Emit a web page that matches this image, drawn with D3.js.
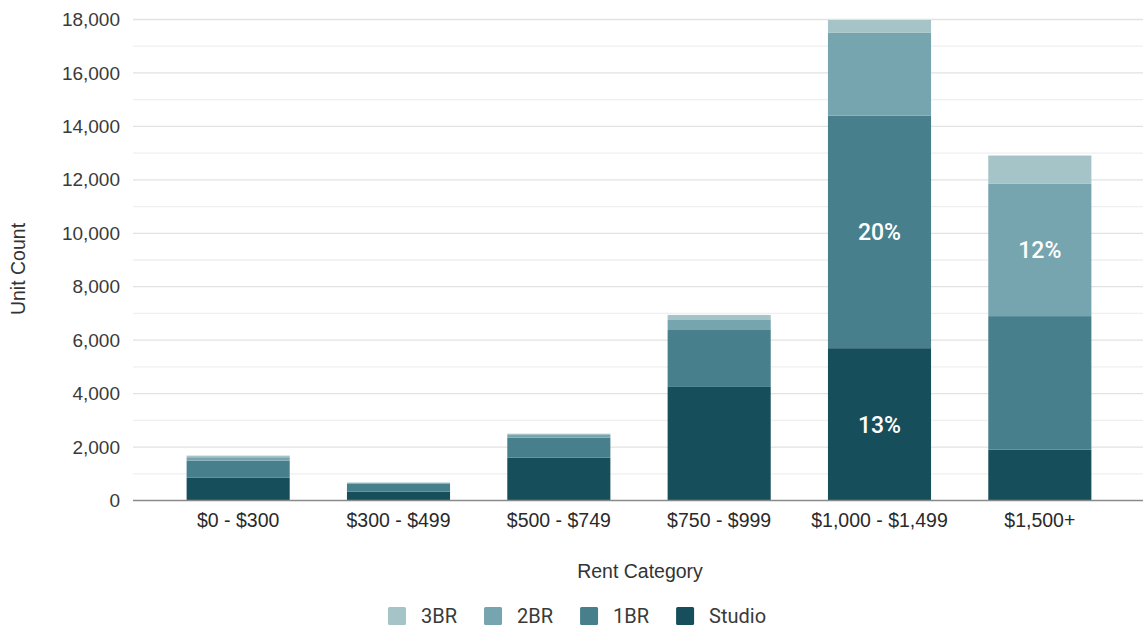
<!DOCTYPE html>
<html>
<head>
<meta charset="utf-8">
<script src="https://cdn.jsdelivr.net/npm/d3@7/dist/d3.min.js"></script>
<style>
  html, body { margin: 0; padding: 0; background: #ffffff; }
  svg { display: block; }
</style>
</head>
<body>
<svg id="chart" width="1143" height="628"></svg>
<script>
// Rent categories along the x axis
const categories = ["$0 - $300", "$300 - $499", "$500 - $749", "$750 - $999", "$1,000 - $1,499", "$1,500+"];

// Unit counts per unit type (stacked bottom to top: Studio, 1BR, 2BR, 3BR)
const studio = [850, 330, 1600, 4250, 5700, 1900];
const oneBR  = [640, 300, 750, 2130, 8700, 5000];
const twoBR  = [130, 30, 100, 375, 3100, 4950];
const threeBR = [60, 15, 50, 190, 480, 1060];

const seriesNames = ["Studio", "1BR", "2BR", "3BR"];
const seriesValues = [studio, oneBR, twoBR, threeBR];
const seriesColors = ["#174e5b", "#477f8c", "#76a4af", "#a4c4c8"];

// Y axis ticks (major) and minor gridlines
const yTicks = [0, 2000, 4000, 6000, 8000, 10000, 12000, 14000, 16000, 18000];
const yMinor = [1000, 3000, 5000, 7000, 9000, 11000, 13000, 15000, 17000];

// Segments annotated with their share of all units
const annotated = [
  { series: "1BR", category: "$1,000 - $1,499" },
  { series: "Studio", category: "$1,000 - $1,499" },
  { series: "2BR", category: "$1,500+" }
];

const svg = d3.select("#chart");
const plotLeft = 133, plotRight = 1143, plotTop = 19.5, plotBottom = 500.5;

const x = d3.scaleBand()
  .domain(categories)
  .range([158, 1120])
  .paddingInner(0.357)
  .paddingOuter(0.1785);

const y = d3.scaleLinear().domain([0, 18000]).range([plotBottom, plotTop]);

// Build stack table
const table = categories.map((c, i) => {
  const row = { category: c };
  seriesNames.forEach((s, k) => { row[s] = seriesValues[k][i]; });
  return row;
});
const stacked = d3.stack().keys(seriesNames)(table);
const grandTotal = d3.sum(seriesValues, arr => d3.sum(arr));

// Minor gridlines
svg.append("g").selectAll("line").data(yMinor).join("line")
  .attr("x1", plotLeft).attr("x2", plotRight)
  .attr("y1", d => y(d)).attr("y2", d => y(d))
  .attr("stroke", "#efefef").attr("stroke-width", 1.3);

// Major gridlines
svg.append("g").selectAll("line").data(yTicks.filter(d => d > 0)).join("line")
  .attr("x1", plotLeft).attr("x2", plotRight)
  .attr("y1", d => y(d)).attr("y2", d => y(d))
  .attr("stroke", "#e2e2e2").attr("stroke-width", 1.3);

// Y axis labels
const yAxis = d3.axisLeft(y).tickValues(yTicks).tickSize(0).tickPadding(0)
  .tickFormat(d3.format(","));
svg.append("g")
  .attr("transform", `translate(120,0)`)
  .call(yAxis)
  .call(g => g.select(".domain").remove())
  .call(g => g.selectAll("text")
    .attr("font-family", "'Liberation Sans', Arial, sans-serif")
    .attr("font-size", 19)
    .attr("fill", "#3a3a3a"));

// Bars
const layer = svg.append("g").selectAll("g").data(stacked).join("g")
  .attr("fill", (d, i) => seriesColors[i]);
layer.selectAll("rect").data(d => d.map(v => ({ v, key: d.key }))).join("rect")
  .attr("x", d => x(d.v.data.category))
  .attr("width", x.bandwidth())
  .attr("y", d => y(d.v[1]))
  .attr("height", d => y(d.v[0]) - y(d.v[1]));

// Baseline
svg.append("line")
  .attr("x1", plotLeft).attr("x2", plotRight)
  .attr("y1", y(0)).attr("y2", y(0))
  .attr("stroke", "#8a8a8a").attr("stroke-width", 1.3);

// Percentage annotations
annotated.forEach(a => {
  const k = seriesNames.indexOf(a.series);
  const i = categories.indexOf(a.category);
  const seg = stacked[k][i];
  const pct = Math.round(seriesValues[k][i] / grandTotal * 100);
  svg.append("text")
    .attr("x", x(a.category) + x.bandwidth() / 2)
    .attr("y", (y(seg[0]) + y(seg[1])) / 2)
    .attr("dy", "0.36em")
    .attr("text-anchor", "middle")
    .attr("font-family", "Roboto, sans-serif")
    .attr("font-weight", 500)
    .attr("font-size", 23)
    .attr("fill", "#ffffff")
    .text(pct + "%");
});

// X axis labels
const xAxis = d3.axisBottom(x).tickSize(0).tickPadding(0);
svg.append("g")
  .attr("transform", `translate(0,${plotBottom + 13})`)
  .call(xAxis)
  .call(g => g.select(".domain").remove())
  .call(g => g.selectAll("text")
    .attr("font-family", "'Liberation Sans', Arial, sans-serif")
    .attr("font-size", 19.5)
    .attr("fill", "#2a2a2a"));

// Axis titles
svg.append("text")
  .attr("x", 640).attr("y", 578)
  .attr("text-anchor", "middle")
  .attr("font-family", "'Liberation Sans', Arial, sans-serif")
  .attr("font-size", 19.5)
  .attr("fill", "#333")
  .text("Rent Category");

svg.append("text")
  .attr("transform", "translate(25,269) rotate(-90)")
  .attr("text-anchor", "middle")
  .attr("font-family", "'Liberation Sans', Arial, sans-serif")
  .attr("font-size", 19.5)
  .attr("fill", "#333")
  .text("Unit Count");

// Legend (3BR, 2BR, 1BR, Studio)
const legendOrder = [3, 2, 1, 0];
let lx = 388;
const legend = svg.append("g");
legendOrder.forEach(k => {
  const g = legend.append("g").attr("transform", `translate(${lx},607)`);
  g.append("rect").attr("width", 18).attr("height", 18).attr("rx", 1.5)
    .attr("fill", seriesColors[k]);
  const t = g.append("text")
    .attr("x", 33).attr("y", 16)
    .attr("font-family", "Roboto, sans-serif")
    .attr("font-size", 20)
    .attr("fill", "#3a3a3a")
    .text(seriesNames[k]);
  lx += 33 + t.node().getComputedTextLength() + 27;
});
</script>
</body>
</html>
